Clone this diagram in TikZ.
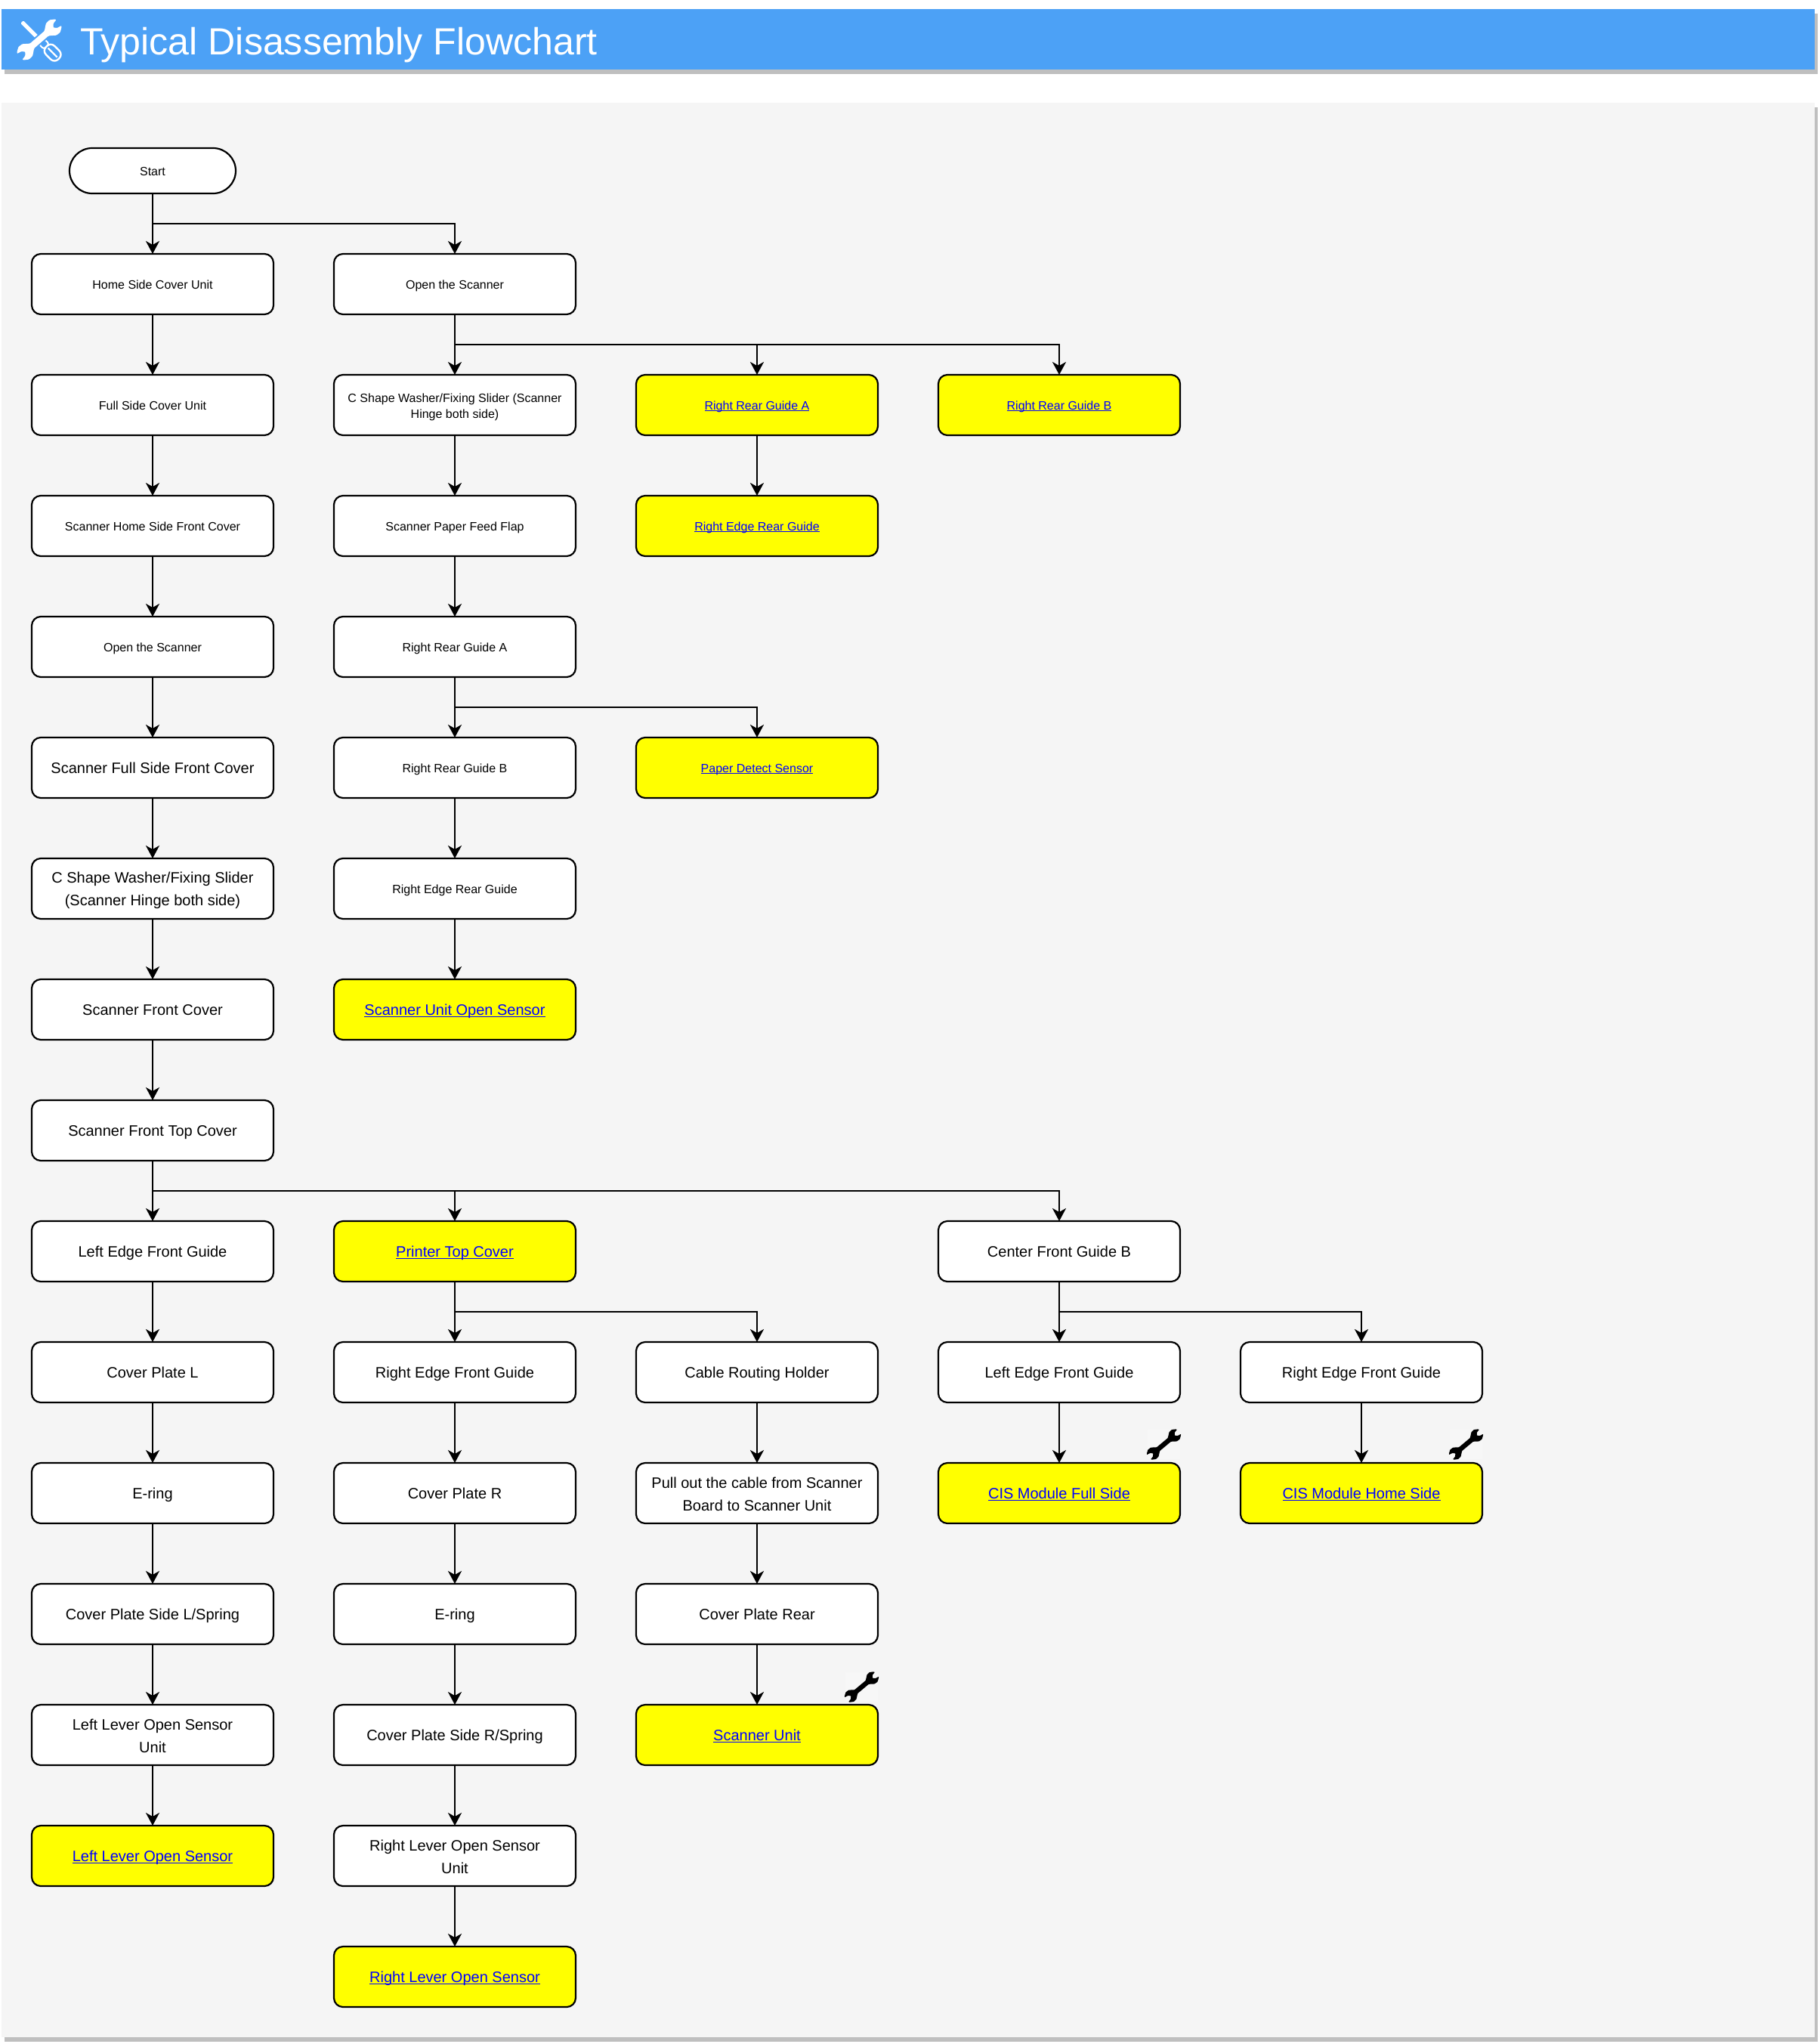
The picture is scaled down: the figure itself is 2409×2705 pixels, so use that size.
\documentclass[tikz,border=0pt]{standalone}
\usepackage{fontspec}
\setmainfont{Liberation Sans}
\usetikzlibrary{arrows.meta}
\definecolor{headblue}{HTML}{4CA1F6}
\definecolor{panelgrey}{HTML}{F5F5F5}
\definecolor{shadowgrey}{HTML}{BFBFBF}
\definecolor{linkblue}{HTML}{0000FF}
\definecolor{toolbg}{HTML}{F7F7F7}
\definecolor{boxyellow}{HTML}{FFFF00}
\newcommand\lnk[1]{\sbox0{#1}\textcolor{linkblue}{\rlap{\rule[-.14em]{\wd0}{.08em}}\usebox0}}
\newcommand\lstrut{\rule[-3bp]{0pt}{23bp}}
\newcommand\smstrut{\rule[-2bp]{0pt}{19bp}}
\newcommand\wrenchpath{(-.36,.12) -- (.36,.12) -- (.454,.19) -- (.597,.3) -- (.778,.31) -- (.93,.21) -- (.985,.15) -- (.8,.11) -- (.7,0) -- (.8,-.11) -- (.985,-.15) -- (.93,-.21) -- (.778,-.31) -- (.597,-.3) -- (.454,-.19) -- (.36,-.12) -- (-.36,-.12) -- (-.454,-.19) -- (-.597,-.3) -- (-.778,-.31) -- (-.93,-.21) -- (-.985,-.15) -- (-.8,-.11) -- (-.7,0) -- (-.8,.11) -- (-.985,.15) -- (-.93,.21) -- (-.778,.31) -- (-.597,.3) -- (-.454,.19) -- cycle}
\newcommand\smallwrench[2]{%
  \fill[toolbg] (#1-21.5,#2-19.5) rectangle (#1+21.5,#2+19.5);
  \begin{scope}[shift={(#1,#2)},rotate=40,scale=26.5]
    \fill[black,rounded corners=.6bp] \wrenchpath;
  \end{scope}}
\tikzset{
  every node/.style={inner sep=0pt,outer sep=0pt,align=center},
  flowbox/.style={draw=black,line width=2.2bp,rounded corners=12bp,minimum width=320bp,minimum height=80bp},
  whitebox/.style={flowbox,fill=white,text=black},
  yellowbox/.style={flowbox,fill=boxyellow,text=linkblue},
  fsmall/.style={font=\fontsize{16bp}{20bp}\selectfont},
  flarge/.style={font=\fontsize{20bp}{30bp}\selectfont},
  sone/.style={fsmall,text height=12bp,text depth=0pt},
  lone/.style={flarge,text height=15bp,text depth=0pt},
  conn/.style={draw=black,line width=2.2bp,-{Stealth[length=17bp,width=18bp,inset=5bp]}},
}
\begin{document}
\begin{tikzpicture}[x=1bp,y=-1bp]
\useasboundingbox (0,0) rectangle (2409,2705);
\fill[white] (0,0) rectangle (2409,2705);
% header
\fill[shadowgrey] (6,18) rectangle (2406,98);
\fill[headblue] (2,12) rectangle (2402,92);
\node[anchor=base west,text=white,font=\fontsize{50.1bp}{60bp}\selectfont] (title) at (106,72) {Typical Disassembly Flowchart};
% header icon: screwdriver
\begin{scope}[shift={(29,29)},rotate=-45]
  \fill[white,rounded corners=1.5bp] (0,-2.6) rectangle (44,2.6);
  \draw[white,line width=2bp,fill=headblue,rounded corners=3bp] (37,-5) rectangle (46,5);
  \draw[white,line width=2.4bp,fill=headblue,rounded corners=7bp] (46,-8) rectangle (69,8);
  \fill[white] (49,-1.2) rectangle (66,1.2);
\end{scope}
% header icon: wrench
\begin{scope}[shift={(52,52.5)},rotate=41,scale=35]
  \path[fill=white,rounded corners=1bp,preaction={draw=headblue,line width=4bp}] \wrenchpath;
\end{scope}
% panel
\fill[shadowgrey] (6,142) rectangle (2406,2702);
\fill[panelgrey] (2,136) rectangle (2402,2696);
% nodes
\node[whitebox,sone,minimum width=220bp,minimum height=60bp,rounded corners=30bp] (start) at (202,226) {Start};
% column a
\node[whitebox,sone] (a0) at (202,376) {Home Side Cover Unit};
\node[whitebox,sone] (a1) at (202,536) {Full Side Cover Unit};
\node[whitebox,sone] (a2) at (202,696) {Scanner Home Side Front Cover};
\node[whitebox,sone] (a3) at (202,856) {Open the Scanner};
\node[whitebox,lone] (a4) at (202,1016) {Scanner Full Side Front Cover};
\node[whitebox,flarge] (a5) at (202,1176) {\lstrut C Shape Washer/Fixing Slider\\(Scanner Hinge both side)\lstrut};
\node[whitebox,lone] (a6) at (202,1336) {Scanner Front Cover};
\node[whitebox,lone] (a7) at (202,1496) {Scanner Front Top Cover};
\node[whitebox,lone] (a8) at (202,1656) {Left Edge Front Guide};
\node[whitebox,lone] (a9) at (202,1816) {Cover Plate L};
\node[whitebox,lone] (a10) at (202,1976) {E-ring};
\node[whitebox,lone] (a11) at (202,2136) {Cover Plate Side L/Spring};
\node[whitebox,flarge] (a12) at (202,2296) {\lstrut Left Lever Open Sensor\\Unit\lstrut};
\node[yellowbox,lone] (a13) at (202,2456) {\lnk{Left Lever Open Sensor}};
% column b
\node[whitebox,sone] (b0) at (602,376) {Open the Scanner};
\node[whitebox,fsmall] (b1) at (602,536) {\smstrut C Shape Washer/Fixing Slider (Scanner\\Hinge both side)\smstrut};
\node[whitebox,sone] (b2) at (602,696) {Scanner Paper Feed Flap};
\node[whitebox,sone] (b3) at (602,856) {Right Rear Guide A};
\node[whitebox,sone] (b4) at (602,1016) {Right Rear Guide B};
\node[whitebox,sone] (b5) at (602,1176) {Right Edge Rear Guide};
\node[yellowbox,lone] (b6) at (602,1336) {\lnk{Scanner Unit Open Sensor}};
\node[yellowbox,lone] (b8) at (602,1656) {\lnk{Printer Top Cover}};
\node[whitebox,lone] (b9) at (602,1816) {Right Edge Front Guide};
\node[whitebox,lone] (b10) at (602,1976) {Cover Plate R};
\node[whitebox,lone] (b11) at (602,2136) {E-ring};
\node[whitebox,lone] (b12) at (602,2296) {Cover Plate Side R/Spring};
\node[whitebox,flarge] (b13) at (602,2456) {\lstrut Right Lever Open Sensor\\Unit\lstrut};
\node[yellowbox,lone] (b14) at (602,2616) {\lnk{Right Lever Open Sensor}};
% column c
\node[yellowbox,sone] (c1) at (1002,536) {\lnk{Right Rear Guide A}};
\node[yellowbox,sone] (c2) at (1002,696) {\lnk{Right Edge Rear Guide}};
\node[yellowbox,sone] (c4) at (1002,1016) {\lnk{Paper Detect Sensor}};
\node[whitebox,lone] (c9) at (1002,1816) {Cable Routing Holder};
\node[whitebox,flarge] (c10) at (1002,1976) {\lstrut Pull out the cable from Scanner\\Board to Scanner Unit\lstrut};
\node[whitebox,lone] (c11) at (1002,2136) {Cover Plate Rear};
\node[yellowbox,lone] (c12) at (1002,2296) {\lnk{Scanner Unit}};
% column d
\node[yellowbox,sone] (d1) at (1402,536) {\lnk{Right Rear Guide B}};
\node[whitebox,lone] (d8) at (1402,1656) {Center Front Guide B};
\node[whitebox,lone] (d9) at (1402,1816) {Left Edge Front Guide};
\node[yellowbox,lone] (d10) at (1402,1976) {\lnk{CIS Module Full Side}};
% column e
\node[whitebox,lone] (e9) at (1802,1816) {Right Edge Front Guide};
\node[yellowbox,lone] (e10) at (1802,1976) {\lnk{CIS Module Home Side}};
% straight connectors
\foreach \p/\q in {start/a0,a0/a1,a1/a2,a2/a3,a3/a4,a4/a5,a5/a6,a6/a7,a7/a8,a8/a9,a9/a10,a10/a11,a11/a12,a12/a13,
  b0/b1,b1/b2,b2/b3,b3/b4,b4/b5,b5/b6,b8/b9,b9/b10,b10/b11,b11/b12,b12/b13,b13/b14,
  c1/c2,c9/c10,c10/c11,c11/c12,d8/d9,d9/d10,e9/e10}
  \draw[conn] (\p.south) -- (\q.north);
% branching connectors
\foreach \p/\q in {start/b0,b0/c1,b0/d1,b3/c4,a7/b8,a7/d8,b8/c9,d8/e9}
  \draw[conn] (\p.south) -- ++(0,40) -| (\q.north);
% wrenches
\smallwrench{1540.5}{1911.5}
\smallwrench{1940.5}{1911.5}
\smallwrench{1140.5}{2232.5}
\end{tikzpicture}
\end{document}
